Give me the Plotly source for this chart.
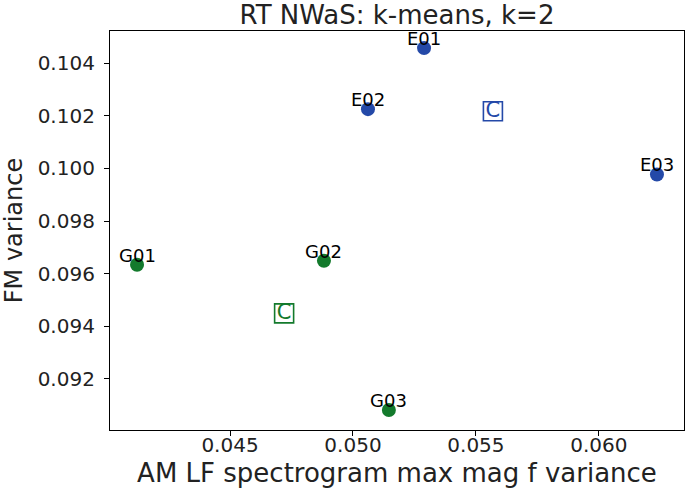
import plotly.graph_objects as go

# Data
labels_e = ["E01", "E02", "E03"]
x_e = [0.05289, 0.05061, 0.06236]
y_e = [0.10457, 0.10225, 0.09977]

labels_g = ["G01", "G02", "G03"]
x_g = [0.04122, 0.04882, 0.05146]
y_g = [0.09634, 0.09649, 0.09082]

centroid_x = [0.05569, 0.04720]
centroid_y = [0.10217, 0.09449]

x_ticks = [0.045, 0.050, 0.055, 0.060]
y_ticks = [0.092, 0.094, 0.096, 0.098, 0.100, 0.102, 0.104]

BLUE = "#2449a8"
GREEN = "#137a2c"
FONT = "DejaVu Sans"
cluster_colors = [BLUE, GREEN]

fig = go.Figure()

fig.add_trace(go.Scatter(x=x_e, y=y_e, mode="markers",
                         marker=dict(color=BLUE, size=14), showlegend=False, cliponaxis=False))
fig.add_trace(go.Scatter(x=x_g, y=y_g, mode="markers",
                         marker=dict(color=GREEN, size=14), showlegend=False, cliponaxis=False))

for cx, cy, col in zip(centroid_x, centroid_y, cluster_colors):
    fig.add_trace(go.Scatter(x=[cx], y=[cy], mode="markers+text",
                             text=["C"], textposition="middle center",
                             textfont=dict(family=FONT, size=21, color=col),
                             marker=dict(symbol="square-open", size=19,
                                         color=col, line=dict(width=1.6, color=col)),
                             showlegend=False))

for xs, ys, labs in [(x_e, y_e, labels_e), (x_g, y_g, labels_g)]:
    for xv, yv, lab in zip(xs, ys, labs):
        fig.add_annotation(x=xv, y=yv, text=lab, showarrow=False,
                           xanchor="center", yanchor="bottom", yshift=-3,
                           font=dict(family=FONT, size=18, color="black"))

axis_common = dict(showline=True, linecolor="black", linewidth=1.2, mirror=True,
                   ticks="outside", ticklen=5, tickcolor="black", showgrid=False,
                   zeroline=False, automargin=False,
                   tickfont=dict(family=FONT, size=20, color="#222"))

fig.update_xaxes(range=[0.04012, 0.06346], tickvals=x_ticks,
                 ticktext=[f"{v:.3f}" for v in x_ticks], ticklabelstandoff=-8,
                 title=dict(text="AM LF spectrogram max mag f variance",
                            font=dict(family=FONT, size=26, color="#222"), standoff=7),
                 **axis_common)
fig.update_yaxes(range=[0.09006, 0.10522], tickvals=y_ticks,
                 ticktext=[f"{v:.3f}" for v in y_ticks], ticklabelstandoff=5,
                 title=dict(text="FM variance",
                            font=dict(family=FONT, size=24, color="#222"), standoff=11),
                 **axis_common)

fig.update_layout(
    width=685, height=495,
    margin=dict(l=110, r=1, t=31, b=65, autoexpand=False),
    paper_bgcolor="white", plot_bgcolor="white",
    title=dict(text="RT NWaS: k-means, k=2", x=0.5, xref="paper", xanchor="center",
               y=0.970, yref="container", yanchor="middle", pad=dict(t=0, b=0),
               font=dict(family=FONT, size=26, color="#222")),
    font=dict(family=FONT),
)

fig.write_html("out.html", config={"displayModeBar": False},
               post_script="document.body.style.margin='0';")
